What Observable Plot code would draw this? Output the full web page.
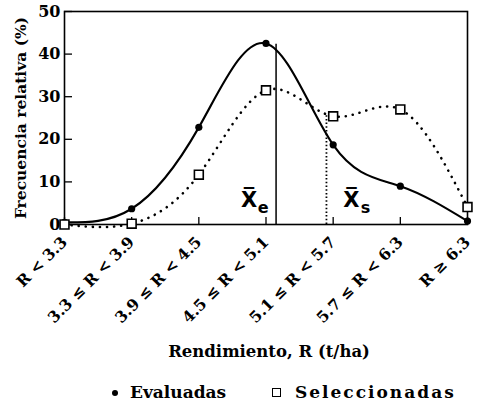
<!DOCTYPE html>
<html><head><meta charset="utf-8">
<script src="https://cdn.jsdelivr.net/npm/d3@7"></script>
<script src="https://cdn.jsdelivr.net/npm/@observablehq/plot@0.6"></script>
<style>
body{margin:0;background:#fff;width:480px;height:404px;overflow:hidden;}
#legend{position:relative;height:28px;width:480px;font-family:"DejaVu Serif",serif;font-weight:bold;font-size:17px;color:#000;}
#legend .item{position:absolute;top:6px;line-height:20px;white-space:nowrap;}
#legend .dot{display:inline-block;width:6px;height:6px;border-radius:50%;background:#000;vertical-align:middle;margin-right:12px;position:relative;top:-1px;}
#legend .sq{display:inline-block;width:7px;height:7px;border:1.5px solid #000;background:#fff;vertical-align:middle;margin-right:14px;position:relative;top:-1px;}
</style></head><body><div id="chart"></div><script>
const categories = ["R < 3.3","3.3 ≤ R < 3.9","3.9 ≤ R < 4.5","4.5 ≤ R < 5.1","5.1 ≤ R < 5.7","5.7 ≤ R < 6.3","R ≥ 6.3"];
const evaluadas = [0.5, 3.7, 22.8, 42.5, 18.7, 9.0, 0.8];
const seleccionadas = [0.0, 0.2, 11.7, 31.5, 25.4, 27.0, 4.1];
const yTicks = [0, 10, 20, 30, 40, 50];
const meanPos = [3.15, 3.9];     // category-axis position of the means
const meanTop = [42.3, 25.5];    // where the mean lines meet the curves
const meanSub = ["e", "s"];
const seriesNames = ["Evaluadas", "Seleccionadas"];
const xLabel = "Rendimiento, R (t/ha)";
const yLabel = "Frecuencia relativa (%)";

const idx = categories.map((_, i) => i);
const evalData = idx.map(i => ({i, v: evaluadas[i]}));
const selData = idx.map(i => ({i, v: seleccionadas[i]}));
const means = meanPos.map((p, k) => ({x: p, top: meanTop[k], sub: meanSub[k]}));

const W = 480, H = 376, ML = 64, MR = 13, MT = 11, MB = 152;
const innerW = W - ML - MR, innerH = H - MT - MB;
const serif = "DejaVu Serif";

const chart = Plot.plot({
  width: W, height: H,
  marginLeft: ML, marginRight: MR, marginTop: MT, marginBottom: MB,
  style: {fontFamily: serif, fontWeight: "bold", color: "#000", background: "#fff", overflow: "visible"},
  x: {type: "linear", domain: [0, categories.length - 1]},
  y: {domain: [0, 50]},
  marks: [
    Plot.axisY({ticks: yTicks, tickSize: 0, tickPadding: 4, fontSize: 16, label: null, tickFormat: d => String(d)}),
    Plot.axisX({ticks: idx, tickSize: 0, tickPadding: 15, tickRotate: -45, fontSize: 15.5, label: null, tickFormat: i => categories[i]}),
    Plot.tickX(idx, {x: d => d, insetTop: innerH - 7, strokeWidth: 1.3}),
    Plot.tickY(yTicks, {y: d => d, insetRight: innerW - 8, strokeWidth: 1.3}),
    Plot.frame({strokeWidth: 1.6}),
    Plot.ruleX([means[0]], {x: "x", y1: 0, y2: "top", strokeWidth: 1.5}),
    Plot.ruleX([means[1]], {x: "x", y1: 0, y2: "top", strokeWidth: 1.8, strokeDasharray: "1.5,2.2"}),
    Plot.line(selData, {x: "i", y: "v", curve: "natural", strokeWidth: 2.6, strokeDasharray: "0.1,7", strokeLinecap: "round"}),
    Plot.line(evalData, {x: "i", y: "v", curve: "natural", strokeWidth: 2.1}),
    Plot.dot(evalData, {x: "i", y: "v", r: 3.6, fill: "#000"}),
    Plot.dot(selData, {x: "i", y: "v", symbol: "square", r: 5, fill: "#fff", stroke: "#000", strokeWidth: 1.6}),
    Plot.text([means[0]], {x: "x", frameAnchor: "bottom", text: () => "X\u0305", fontFamily: "DejaVu Sans", fontSize: 21, fontWeight: "bold", dx: -27, dy: -18}),
    Plot.text([means[0]], {x: "x", frameAnchor: "bottom", text: "sub", fontFamily: "DejaVu Sans", fontSize: 16, fontWeight: "bold", dx: -13, dy: -12}),
    Plot.text([means[1]], {x: "x", frameAnchor: "bottom", text: () => "X\u0305", fontFamily: "DejaVu Sans", fontSize: 21, fontWeight: "bold", dx: 25, dy: -18}),
    Plot.text([means[1]], {x: "x", frameAnchor: "bottom", text: "sub", fontFamily: "DejaVu Sans", fontSize: 16, fontWeight: "bold", dx: 39, dy: -12}),
    Plot.text([xLabel], {text: d => d, frameAnchor: "bottom", dy: 132, dx: 3, fontSize: 16.5}),
    Plot.text([yLabel], {text: d => d, frameAnchor: "left", textAnchor: "middle", rotate: -90, dx: -43, fontSize: 15.5})
  ]
});
document.getElementById("chart").appendChild(chart);

const legend = document.createElement("div");
legend.id = "legend";
legend.innerHTML =
  `<span class="item" style="left:112px"><span class="dot"></span>${seriesNames[0]}</span>` +
  `<span class="item" style="left:272px"><span class="sq"></span><span style="letter-spacing:2px">${seriesNames[1]}</span></span>`;
document.body.appendChild(legend);
</script></body></html>
